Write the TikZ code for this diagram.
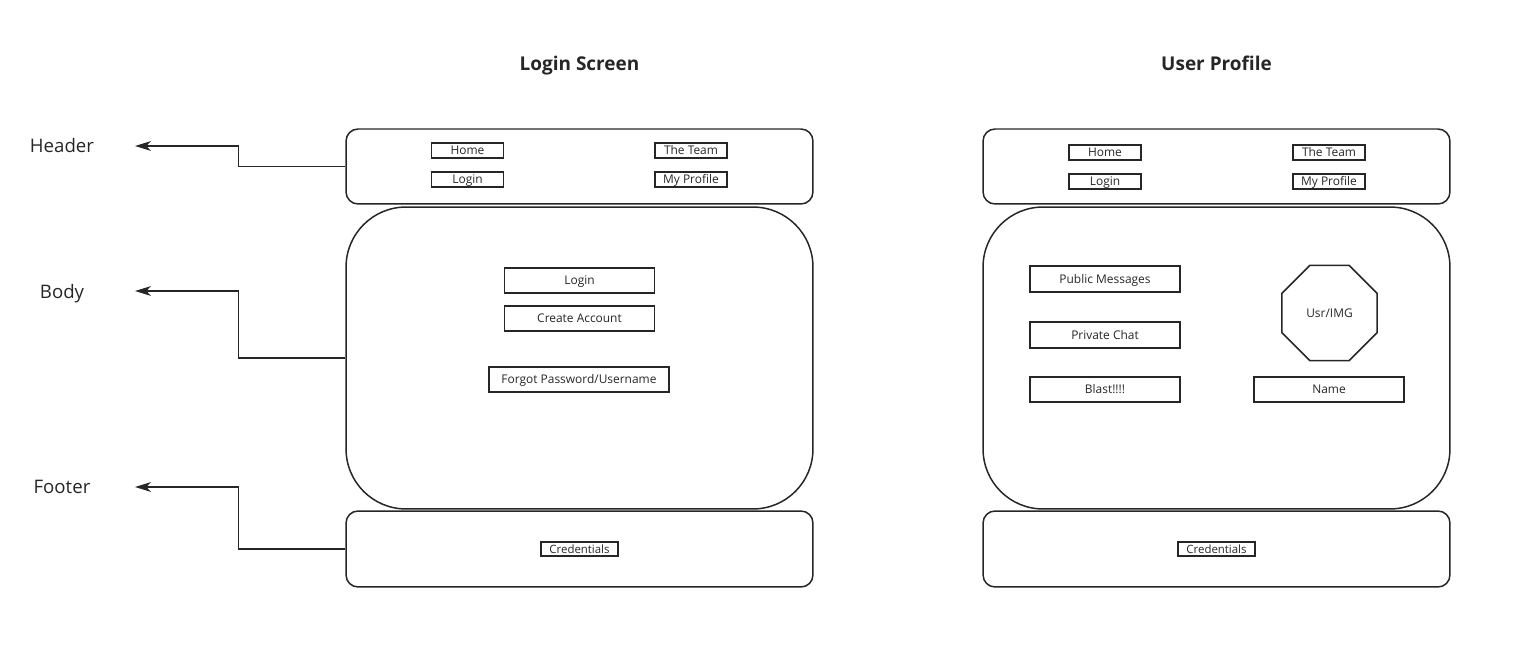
\documentclass[tikz,border=0pt]{standalone}
\usepackage{fontspec}
\setmainfont{Open Sans}
\usetikzlibrary{arrows.meta,shapes.geometric}

\definecolor{ink}{HTML}{262626}
\tikzset{
  panel/.style={draw=ink, line width=0.85pt, rounded corners=0.24cm, minimum width=9.34cm, minimum height=1.5cm, inner sep=0pt},
  bodypanel/.style={panel, rounded corners=1.2cm, minimum height=6.04cm},
  btn/.style={draw=ink, text=ink, line width=1pt, inner sep=0pt, minimum height=0.3cm, text height=4.9pt, text depth=0pt, font=\fontsize{6.8}{8}\selectfont},
  navbtn/.style={btn, minimum width=1.44cm},
  bigbtn/.style={btn, minimum width=3cm, minimum height=0.51cm},
  credbtn/.style={btn, minimum width=1.54cm, minimum height=0.28cm, text height=4.7pt, font=\fontsize{6.5}{8}\selectfont},
  avatar/.style={draw=ink, text=ink, line width=0.85pt, regular polygon, regular polygon sides=8, minimum size=2.06cm, inner sep=0pt, font=\fontsize{6.8}{8}\selectfont},
  sidelabel/.style={text=ink, text height=7.6pt, text depth=0pt, font=\fontsize{10.6}{12}\selectfont},
  screentitle/.style={text=ink, text height=7.7pt, text depth=0pt, font=\fontsize{10.8}{12}\selectfont\bfseries},
  pointer/.style={draw=ink, -{Stealth[length=9pt,width=5.5pt,inset=2.5pt]}, line width=0.85pt}
}

\begin{document}
\begin{tikzpicture}[x=0.02cm, y=-0.02cm]
	\useasboundingbox (0,0) rectangle (1534,651);

	\node[screentitle] (logintitle) at (579.5,64) {Login Screen};
	\node[screentitle] (proftitle) at (1216.5,64) {User Profile};

	\node[sidelabel] (hdlab) at (62,146) {Header};
	\node[sidelabel] (bdlab) at (62,292) {Body};
	\node[sidelabel] (ftlab) at (62,487) {Footer};

	% login screen
	\node[panel] (lhead) at (579.5,166.5) {};
	\node[bodypanel] (lbody) at (579.5,358) {};
	\node[panel, minimum height=1.52cm] (lfoot) at (579.5,549) {};

	\node[navbtn] (lhome) at (467.5,150.5) {Home};
	\node[navbtn] (lteam) at (691,150.5) {The Team};
	\node[navbtn] (llogin) at (467.5,179.5) {Login};
	\node[navbtn] (lprofile) at (691,179.5) {My Profile};

	\node[bigbtn, minimum height=0.5cm] (loginbtn) at (579.5,280.5) {Login};
	\node[bigbtn, minimum height=0.5cm] (createbtn) at (579.5,318.5) {Create Account};
	\node[bigbtn, minimum width=3.6cm, minimum height=0.5cm] (forgotbtn) at (579,379.5) {Forgot Password/Username};

	\node[credbtn] (lcred) at (579.5,549) {Credentials};

	% user profile
	\node[panel] (rhead) at (1216.5,166.5) {};
	\node[bodypanel] (rbody) at (1216.5,358) {};
	\node[panel, minimum height=1.52cm] (rfoot) at (1216.5,549) {};

	\node[navbtn] (rhome) at (1105,152.5) {Home};
	\node[navbtn] (rteam) at (1329,152.5) {The Team};
	\node[navbtn] (rlogin) at (1105,181.5) {Login};
	\node[navbtn] (rprofile) at (1329,181.5) {My Profile};

	\node[bigbtn, minimum height=0.52cm] (pubmsg) at (1105,279) {Public Messages};
	\node[bigbtn, minimum height=0.52cm] (privchat) at (1105,335) {Private Chat};
	\node[bigbtn, minimum height=0.5cm] (blast) at (1105,389.5) {Blast!!!!};
	\node[bigbtn, minimum height=0.5cm] (namebtn) at (1329,389.5) {Name};
	\node[avatar] (usrimg) at (1329.5,313) {Usr/IMG};

	\node[credbtn] (rcred) at (1216.5,549) {Credentials};

	% pointers
	\coordinate (hdtip) at (135,146);
	\coordinate (bdtip) at (135,291);
	\coordinate (fttip) at (135,487);
	\draw[pointer] (lhead.west) -- ++(-107,0) |- (hdtip);
	\draw[pointer] (lbody.west) -- ++(-107,0) |- (bdtip);
	\draw[pointer] (lfoot.west) -- ++(-107,0) |- (fttip);
\end{tikzpicture}
\end{document}
